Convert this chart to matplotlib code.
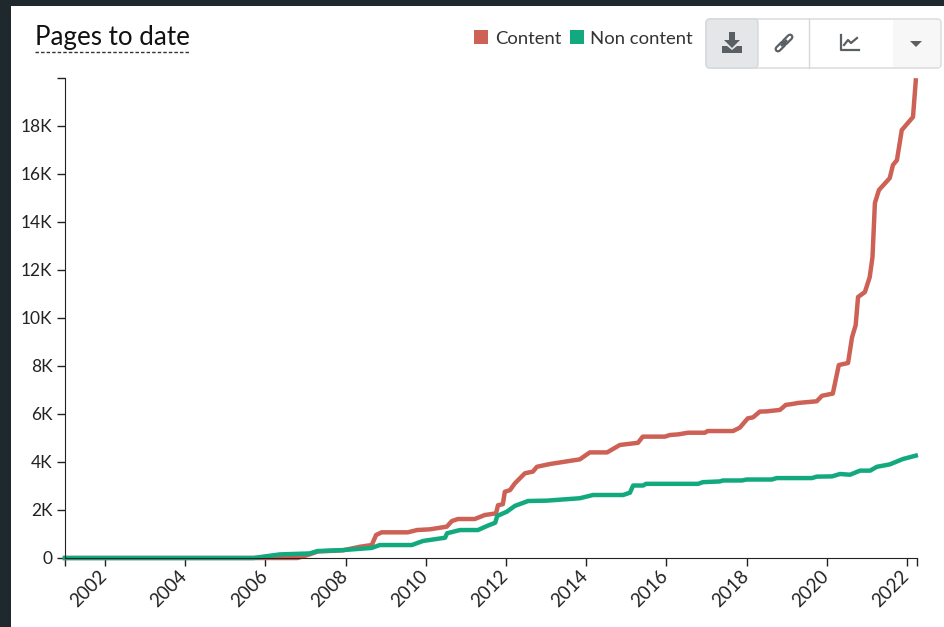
import matplotlib
matplotlib.use("Agg")
import matplotlib.pyplot as plt
from matplotlib.patches import FancyBboxPatch, Rectangle, Polygon
from matplotlib.transforms import ScaledTranslation

plt.rcParams['font.family'] = ['Lato', 'DejaVu Sans']

# Datos (anio, paginas)
content_years = [2001.0, 2006.8, 2007.1, 2007.3, 2007.93, 2008.36, 2008.65, 2008.76, 2008.9, 2009.55,
                 2009.78, 2010.1, 2010.52, 2010.65, 2010.8, 2011.22, 2011.47, 2011.75, 2011.8, 2011.92,
                 2011.97, 2012.1, 2012.22, 2012.47, 2012.67, 2012.77, 2013.09, 2013.84, 2014.09, 2014.52,
                 2014.84, 2015.29, 2015.41, 2015.96, 2016.09, 2016.29, 2016.54, 2016.96, 2017.03, 2017.66,
                 2017.83, 2018.03, 2018.16, 2018.33, 2018.5, 2018.83, 2018.98, 2019.15, 2019.28, 2019.75,
                 2019.88, 2020.15, 2020.3, 2020.53, 2020.63, 2020.72, 2020.78, 2020.95, 2021.07, 2021.14,
                 2021.2, 2021.3, 2021.57, 2021.65, 2021.75, 2021.87, 2022.15, 2022.22]
content_vals = [0, 0, 150, 270, 320, 470, 540, 960, 1070, 1070,
                1165, 1195, 1305, 1540, 1625, 1625, 1790, 1860, 2200, 2240,
                2760, 2830, 3110, 3530, 3600, 3800, 3915, 4110, 4400, 4400,
                4710, 4800, 5057, 5057, 5125, 5150, 5220, 5220, 5290, 5290,
                5430, 5820, 5860, 6100, 6110, 6170, 6380, 6420, 6460, 6530,
                6760, 6850, 8040, 8125, 9200, 9700, 10875, 11080, 11700, 12540,
                14790, 15330, 15830, 16375, 16580, 17830, 18375, 19900]

non_content_years = [2001.0, 2005.7, 2005.94, 2006.36, 2007.1, 2007.3, 2007.93, 2008.65, 2008.85, 2009.65,
                     2009.93, 2010.48, 2010.53, 2010.85, 2011.3, 2011.52, 2011.73, 2011.78, 2012.02, 2012.22,
                     2012.55, 2013.02, 2013.84, 2014.17, 2014.92, 2015.09, 2015.17, 2015.42, 2015.49, 2016.79,
                     2016.91, 2017.33, 2017.41, 2017.88, 2018.0, 2018.63, 2018.75, 2019.63, 2019.75, 2020.13,
                     2020.33, 2020.58, 2020.83, 2021.08, 2021.25, 2021.57, 2021.9, 2022.22]
non_content_vals = [0, 0, 55, 150, 190, 290, 330, 420, 540, 540,
                    710, 845, 1030, 1165, 1165, 1330, 1470, 1750, 1930, 2170,
                    2375, 2390, 2490, 2625, 2625, 2720, 3020, 3020, 3090, 3090,
                    3160, 3190, 3230, 3230, 3270, 3270, 3330, 3330, 3390, 3400,
                    3500, 3470, 3640, 3640, 3800, 3900, 4125, 4265]

year_ticks = list(range(2002, 2024, 2))
page_ticks = list(range(0, 20000, 2000))
page_labels = ['0'] + [f'{v // 1000}K' for v in page_ticks[1:]]

RED = '#cd6155'
GREEN = '#12a97e'
DARK = '#1f282c'
W, H = 945, 627

fig = plt.figure(figsize=(W / 100, H / 100), dpi=100, facecolor='white')
ax = fig.add_axes([65 / W, 1 - 558 / H, (917 - 65) / W, (558 - 78) / H])

ax.plot(content_years, content_vals, color=RED, lw=3.2, solid_joinstyle='round', clip_on=False)
ax.plot(non_content_years, non_content_vals, color=GREEN, lw=3.2, solid_joinstyle='round', clip_on=False)

ax.set_xlim(2001.0, 2022.25)
ax.set_ylim(0, 20000)
ax.set_xticks(year_ticks)
ax.set_xticklabels(year_ticks, rotation=45, ha='right', rotation_mode='anchor')
ax.set_xticks([2001.0, 2022.25], minor=True)
ax.set_yticks(page_ticks)
ax.set_yticklabels(page_labels)
ax.set_yticks([20000], minor=True)
ax.tick_params(axis='both', which='both', length=6, width=1, color='#222222')
ax.tick_params(axis='y', which='major', labelsize=12.5, labelcolor='#222222', pad=3)
ax.tick_params(axis='x', which='major', labelsize=13.5, labelcolor='#222222', pad=1)
# Las etiquetas del eje x van un poco a la izquierda de la marca
shift = ScaledTranslation(-7 / 100, 0, fig.dpi_scale_trans)
for lab in ax.get_xticklabels():
    lab.set_transform(lab.get_transform() + shift)
ax.spines['top'].set_visible(False)
ax.spines['right'].set_visible(False)
ax.spines['left'].set_color('#222222')
ax.spines['bottom'].set_color('#222222')

# Capa en pixeles para marco, titulo, leyenda y botones
ov = fig.add_axes([0, 0, 1, 1], zorder=-1)
ov.set_xlim(0, W)
ov.set_ylim(H, 0)
ov.axis('off')
top = fig.add_axes([0, 0, 1, 1], zorder=5)
top.set_xlim(0, W)
top.set_ylim(H, 0)
top.axis('off')
top.patch.set_alpha(0)

ov.add_patch(Rectangle((0, 0), W, 6, color=DARK, lw=0))
ov.add_patch(Rectangle((0, 0), 11, H, color=DARK, lw=0))

top.text(35, 38, 'Pages to date', fontsize=18.7, color='#111111', va='center', ha='left')
top.plot([35, 189], [51.5, 51.5], color='#333333', lw=1, ls=(0, (2.5, 1.5)))

top.add_patch(Rectangle((474, 30), 14, 14, color=RED, lw=0))
top.text(495, 39, 'Content', fontsize=13.3, color='#333333', va='center')
top.add_patch(Rectangle((570, 30), 14, 14, color=GREEN, lw=0))
top.text(590, 39, 'Non content', fontsize=13.3, color='#333333', va='center')

# Botones
top.add_patch(FancyBboxPatch((706, 19), 235, 49, boxstyle='round,pad=0,rounding_size=4',
                             fc='white', ec='#d5d8da', lw=1))
top.add_patch(FancyBboxPatch((706, 19), 52, 49, boxstyle='round,pad=0,rounding_size=4',
                             fc='#e4e6e8', ec='#d5d8da', lw=1))
top.add_patch(Rectangle((893, 20), 47, 47, color='#f7f7f7', lw=0))
top.plot([809, 809], [19, 68], color='#d5d8da', lw=1)
ICON = '#5a5f63'
# descarga
top.add_patch(Polygon([(729, 32), (735, 32), (735, 40), (740, 40), (732, 48), (724, 40), (729, 40)],
                      color=ICON, lw=0))
top.add_patch(Polygon([(722, 46), (727, 46), (732, 50), (737, 46), (742, 46), (742, 53), (722, 53)],
                      color=ICON, lw=0))
# enlace
for x0, y0, x1, y1 in [(778, 49, 783, 44), (785, 42, 790, 37)]:
    top.plot([x0, x1], [y0, y1], color=ICON, lw=5, solid_capstyle='round')
    top.plot([x0, x1], [y0, y1], color='white', lw=1.8, solid_capstyle='round')
top.plot([782, 786], [45, 41], color=ICON, lw=2)
# grafico
top.plot([841, 841, 859], [35, 50, 50], color=ICON, lw=1.6)
top.plot([844, 848, 851, 857], [45, 40, 43, 38], color=ICON, lw=1.6)
# flecha
top.add_patch(Polygon([(910, 41), (922, 41), (916, 47)], color=ICON, lw=0))

fig.savefig('out.png', dpi=100)
